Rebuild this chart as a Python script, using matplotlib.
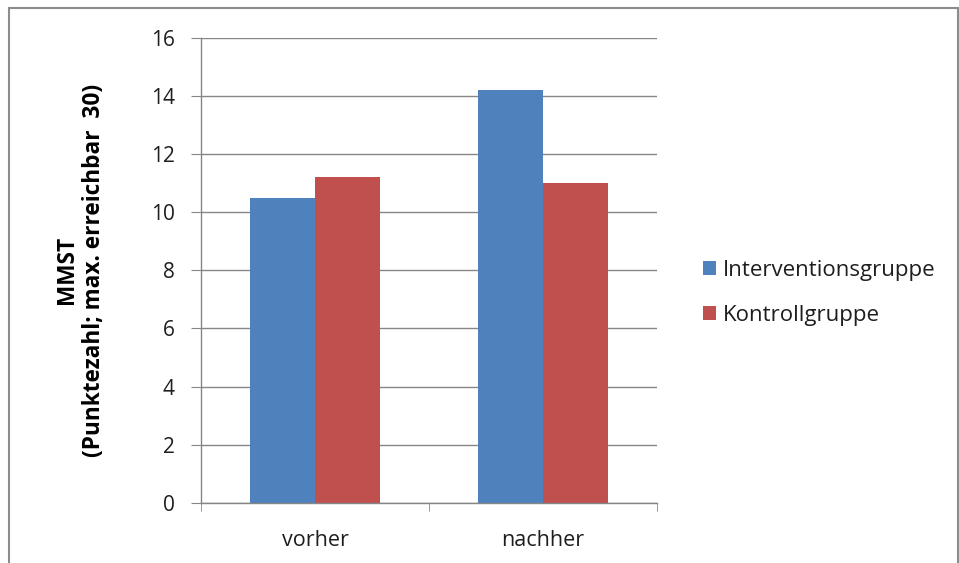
import matplotlib.pyplot as plt
import numpy as np
from matplotlib.patches import Rectangle

# MMST scores before and after, per group
categories = ["vorher", "nachher"]
series_names = ["Interventionsgruppe", "Kontrollgruppe"]
intervention = [10.5, 14.2]
kontrolle = [11.2, 11.0]

BLUE = "#4F81BD"
RED = "#C0504D"
GRID = "#868686"
INK = "#1e1e1e"

plt.rcParams["font.family"] = ["Open Sans", "DejaVu Sans"]

fig = plt.figure(figsize=(9.59, 5.63), dpi=100)
ax = fig.add_axes([201 / 959, 60.3 / 563, 456 / 959, 464.7 / 563])

x = np.arange(len(categories))
width = 1 / 3.5
ax.bar(x - width / 2, intervention, width, color=BLUE, label=series_names[0], zorder=2)
ax.bar(x + width / 2, kontrolle, width, color=RED, label=series_names[1], zorder=2)

ax.set_xlim(-0.5, len(categories) - 0.5)
ax.set_ylim(0, 16)
ax.set_yticks(np.arange(0, 17, 2))
ax.set_xticks(x)
ax.set_xticklabels(categories)
ax.tick_params(axis="x", which="major", length=0, pad=20, labelsize=15.5, labelcolor=INK)
ax.tick_params(axis="y", length=7, color=GRID, labelsize=15, labelcolor=INK, pad=12)

# category separators below the x axis
ax.set_xticks([-0.5, 0.5, 1.5], minor=True)
ax.tick_params(axis="x", which="minor", length=6, color=GRID, direction="out")

ax.yaxis.grid(True, color=GRID, linewidth=1.0, zorder=0)
ax.set_axisbelow(True)
for side in ("top", "right"):
    ax.spines[side].set_visible(False)
for side in ("left", "bottom"):
    ax.spines[side].set_color(GRID)
    ax.spines[side].set_linewidth(1.0)

ax.set_ylabel("MMST\n(Punktezahl; max. erreichbar  30)", fontsize=16.3,
              fontweight="bold", color="black", linespacing=1.2)
ax.yaxis.set_label_coords(-0.208, 0.5)

fig.legend(loc="center left", bbox_to_anchor=(703 / 959, (563 - 293) / 563),
           frameon=False, fontsize=16, handlelength=0.6, handleheight=0.6,
           handletextpad=0.3, labelspacing=1.1, borderpad=0, borderaxespad=0,
           labelcolor=INK)

# chart area border
fig.patches.append(Rectangle((8.5 / 959, -0.05), (958 - 8.5) / 959, 1.05 - 8 / 563,
                             transform=fig.transFigure, fill=False,
                             edgecolor="#8c8c8c", linewidth=1.5))

fig.savefig("out.png", dpi=100, facecolor="white")
